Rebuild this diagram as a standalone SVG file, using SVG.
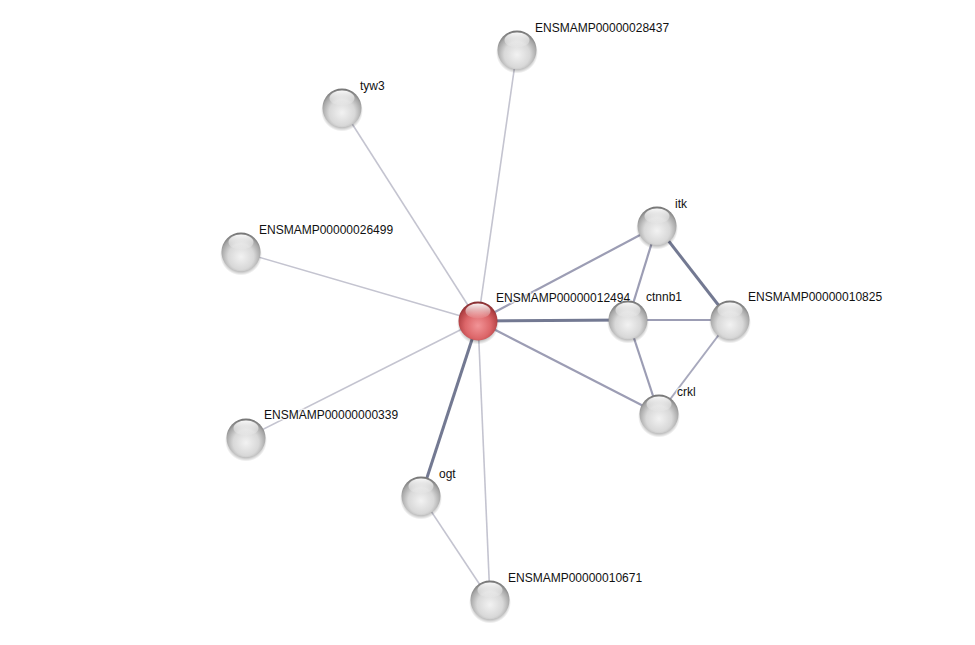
<svg xmlns="http://www.w3.org/2000/svg" width="975" height="645" viewBox="0 0 975 645">
<defs>
<radialGradient id="gs" cx="0.5" cy="0.62" r="0.6">
<stop offset="0" stop-color="#f2f2f2"/>
<stop offset="0.55" stop-color="#d8d8d8"/>
<stop offset="0.85" stop-color="#a6a6a6"/>
<stop offset="1" stop-color="#777"/>
</radialGradient>
<radialGradient id="rs" cx="0.5" cy="0.62" r="0.6">
<stop offset="0" stop-color="#f29497"/>
<stop offset="0.55" stop-color="#dc6669"/>
<stop offset="0.85" stop-color="#b44245"/>
<stop offset="1" stop-color="#873033"/>
</radialGradient>
<linearGradient id="hl" x1="0" y1="0" x2="0" y2="1">
<stop offset="0" stop-color="#ffffff" stop-opacity="0.95"/>
<stop offset="1" stop-color="#ffffff" stop-opacity="0.05"/>
</linearGradient>
<radialGradient id="sh" cx="0.5" cy="0.5" r="0.5">
<stop offset="0.7" stop-color="#000" stop-opacity="0.4"/>
<stop offset="1" stop-color="#000" stop-opacity="0"/>
</radialGradient>
<g id="ball">
<circle cx="0" cy="2.5" r="21" fill="url(#sh)"/>
<circle cx="0" cy="0" r="19.5" fill="url(#gs)"/>
<ellipse cx="0" cy="-10" rx="12.5" ry="7.5" fill="url(#hl)"/>
</g>
<g id="rball">
<circle cx="0" cy="2.5" r="21" fill="url(#sh)"/>
<circle cx="0" cy="0" r="19.5" fill="url(#rs)"/>
<ellipse cx="0" cy="-10" rx="12.5" ry="7.5" fill="url(#hl)"/>
</g>
</defs>
<style>
.lbl{font-family:"Liberation Sans",Arial,sans-serif;font-size:12px;fill:#111;stroke:#fff;stroke-width:3px;stroke-opacity:0.7;paint-order:stroke;stroke-linejoin:round}
.e1{stroke:#c4c4d0;stroke-width:1.6;fill:none}
.e2{stroke:#9c9db4;stroke-width:2.2;fill:none}
.e3{stroke:#737992;stroke-width:3;fill:none}
</style>
<rect width="975" height="645" fill="#fff"/>
<g id="connectors">
<line class="e1" x1="478" y1="321" x2="517" y2="50"/>
<line class="e1" x1="478" y1="321" x2="342" y2="108"/>
<line class="e1" x1="478" y1="321" x2="241" y2="252"/>
<line class="e1" x1="478" y1="321" x2="246" y2="438"/>
<line class="e1" x1="478" y1="321" x2="490" y2="600"/>
<line class="e1" x1="421" y1="496" x2="490" y2="600"/>
<line class="e3" x1="478" y1="321" x2="421" y2="496"/>
<line class="e2" x1="478" y1="321" x2="657" y2="226"/>
<line class="e3" x1="478" y1="321" x2="628" y2="320"/>
<line class="e2" x1="478" y1="321" x2="659" y2="414"/>
<line class="e2" x1="657" y1="226" x2="628" y2="320"/>
<line class="e3" x1="657" y1="226" x2="730" y2="320"/>
<line class="e2" x1="628" y1="320" x2="730" y2="320"/>
<line class="e2" x1="628" y1="320" x2="659" y2="414"/>
<line class="e1" x1="730" y1="320" x2="659" y2="414" style="stroke:#a8a9bd;stroke-width:2"/>
</g>
<g id="n28437"><use href="#ball" x="517" y="50"/><text class="lbl" x="535" y="32">ENSMAMP00000028437</text></g>
<g id="ntyw3"><use href="#ball" x="342" y="108"/><text class="lbl" x="360" y="90">tyw3</text></g>
<g id="n26499"><use href="#ball" x="241" y="252"/><text class="lbl" x="259" y="234">ENSMAMP00000026499</text></g>
<g id="n339"><use href="#ball" x="246" y="438"/><text class="lbl" x="264" y="419">ENSMAMP00000000339</text></g>
<g id="nogt"><use href="#ball" x="421" y="496"/><text class="lbl" x="439" y="478">ogt</text></g>
<g id="n10671"><use href="#ball" x="490" y="600"/><text class="lbl" x="508" y="582">ENSMAMP00000010671</text></g>
<g id="n12494"><use href="#rball" x="478" y="321"/><text class="lbl" x="496" y="302">ENSMAMP00000012494</text></g>
<g id="nitk"><use href="#ball" x="657" y="226"/><text class="lbl" x="675" y="208">itk</text></g>
<g id="nctnnb1"><use href="#ball" x="628" y="320"/><text class="lbl" x="646" y="301">ctnnb1</text></g>
<g id="n10825"><use href="#ball" x="730" y="320"/><text class="lbl" x="748" y="301">ENSMAMP00000010825</text></g>
<g id="ncrkl"><use href="#ball" x="659" y="414"/><text class="lbl" x="677" y="396">crkl</text></g>
</svg>
